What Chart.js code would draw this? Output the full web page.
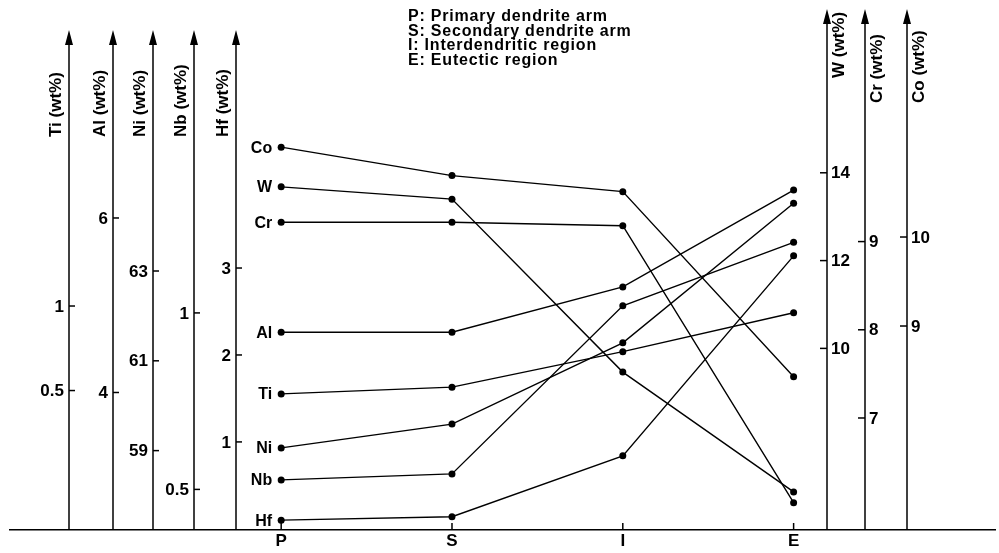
<!DOCTYPE html>
<html>
<head>
<meta charset="utf-8">
<script src="https://cdn.jsdelivr.net/npm/chart.js@4.4.1/dist/chart.umd.min.js"></script>
<style>
  html, body { margin: 0; padding: 0; background: #fff; }
  canvas { display: block; }
</style>
</head>
<body>
<canvas id="chart" width="999" height="553"></canvas>
<script>
// sampling positions in the casting
const regions = ['P', 'S', 'I', 'E'];
const legendLines = [
    'P: Primary dendrite arm',
    'S: Secondary dendrite arm',
    'I: Interdendritic region',
    'E: Eutectic region'
];

// composition (wt%) at P, S, I, E
const coValues = [11.01, 10.69, 10.51, 8.43];
const wValues = [13.68, 13.40, 9.46, 6.73];
const crValues = [9.22, 9.22, 9.18, 6.04];
const alValues = [4.69, 4.69, 5.21, 6.32];
const tiValues = [0.48, 0.52, 0.73, 0.96];
const niValues = [59.06, 59.59, 61.40, 64.51];
const nbValues = [0.527, 0.544, 1.02, 1.20];
const hfValues = [0.10, 0.14, 0.84, 3.14];

// tick labels on each element axis
const tiTicks = [0.5, 1];
const alTicks = [4, 6];
const niTicks = [59, 61, 63];
const nbTicks = [0.5, 1];
const hfTicks = [1, 2, 3];
const wTicks = [10, 12, 14];
const crTicks = [7, 8, 9];
const coTicks = [9, 10];

const FONT = '"Liberation Sans", Arial, Helvetica, sans-serif';

// one vertical axis per element, placed along the x scale
const elementAxes = [
    { id: 'yTi', name: 'Ti', side: 'left', at: -1.24, min: -0.325, max: 2.757, ticks: tiTicks },
    { id: 'yAl', name: 'Al', side: 'left', at: -0.984, min: 2.424, max: 8.395, ticks: alTicks },
    { id: 'yNi', name: 'Ni', side: 'left', at: -0.75, min: 57.232, max: 68.835, ticks: niTicks },
    { id: 'yNb', name: 'Nb', side: 'left', at: -0.511, min: 0.385, max: 1.861, ticks: nbTicks },
    { id: 'yHf', name: 'Hf', side: 'left', at: -0.263, min: -0.013, max: 5.979, ticks: hfTicks },
    { id: 'yW', name: 'W', side: 'right', at: 3.198, min: 5.863, max: 17.731, ticks: wTicks, titleEnd: 78 },
    { id: 'yCr', name: 'Cr', side: 'right', at: 3.42, min: 5.730, max: 11.637, ticks: crTicks, titleEnd: 103 },
    { id: 'yCo', name: 'Co', side: 'right', at: 3.665, min: 6.708, max: 12.562, ticks: coTicks, titleEnd: 103 }
];

const series = [
    ['Co', coValues, 'yCo'],
    ['W', wValues, 'yW'],
    ['Cr', crValues, 'yCr'],
    ['Al', alValues, 'yAl'],
    ['Ti', tiValues, 'yTi'],
    ['Ni', niValues, 'yNi'],
    ['Nb', nbValues, 'yNb'],
    ['Hf', hfValues, 'yHf']
];

const scales = {
    x: {
        type: 'linear',
        min: -1.5876,
        max: 4.179,
        position: 'bottom',
        grid: { display: false, drawTicks: false },
        border: { display: true, color: '#000', width: 1.5 },
        afterBuildTicks: scale => {
            scale.ticks = regions.map((r, i) => ({ value: i }));
        },
        afterFit: scale => {
            scale.height = 23;
        },
        ticks: {
            padding: 3,
            color: '#000',
            font: { family: FONT, size: 17, weight: 'bold', lineHeight: 1 },
            callback: v => regions[v] || ''
        }
    }
};
elementAxes.forEach(ax => {
    scales[ax.id] = {
        type: 'linear',
        display: false,
        position: { x: ax.at },
        min: ax.min,
        max: ax.max
    };
});

// axis lines with arrows, tick marks, titles and the region key
const axisDecor = {
    id: 'axisDecor',
    afterDraw(chart) {
        const ctx = chart.ctx;
        const xs = chart.scales.x;
        const area = chart.chartArea;
        ctx.save();
        ctx.strokeStyle = '#000';
        ctx.fillStyle = '#000';
        ctx.lineWidth = 1.5;

        regions.forEach((r, i) => {
            const px = xs.getPixelForValue(i);
            ctx.beginPath();
            ctx.moveTo(px, area.bottom);
            ctx.lineTo(px, area.bottom - 7);
            ctx.stroke();
        });

        elementAxes.forEach(ax => {
            const scale = chart.scales[ax.id];
            const px = Math.round(xs.getPixelForValue(ax.at));
            const left = ax.side === 'left';
            const tipY = left ? area.top + 21 : area.top;

            ctx.lineWidth = 1.5;
            ctx.beginPath();
            ctx.moveTo(px, area.bottom);
            ctx.lineTo(px, tipY + 10);
            ctx.stroke();
            ctx.beginPath();
            ctx.moveTo(px, tipY);
            ctx.lineTo(px - 4, tipY + 15);
            ctx.lineTo(px + 4, tipY + 15);
            ctx.closePath();
            ctx.fill();

            ctx.font = 'bold 17px ' + FONT;
            ctx.textBaseline = 'middle';
            ax.ticks.forEach(v => {
                const py = scale.getPixelForValue(v);
                ctx.beginPath();
                if (left) {
                    ctx.moveTo(px, py);
                    ctx.lineTo(px + 6, py);
                } else {
                    ctx.moveTo(px - 7, py);
                    ctx.lineTo(px, py);
                }
                ctx.stroke();
                ctx.textAlign = left ? 'right' : 'left';
                ctx.fillText(String(v), left ? px - 5 : px + 4, py + 1);
            });

            ctx.save();
            const titleX = left ? px - 13 : px + 12;
            const titleY = left ? 137 : ax.titleEnd;
            ctx.translate(titleX, titleY);
            ctx.rotate(-Math.PI / 2);
            ctx.textAlign = 'left';
            ctx.textBaseline = 'middle';
            ctx.font = 'bold 17px ' + FONT;
            ctx.fillText(ax.name + ' (wt%)', 0, 0);
            ctx.restore();
        });

        ctx.save();
        ctx.font = 'bold 16px ' + FONT;
        ctx.letterSpacing = '0.8px';
        ctx.textAlign = 'left';
        ctx.textBaseline = 'middle';
        legendLines.forEach((line, i) => {
            ctx.fillText(line, 408, 17 + i * 14.5);
        });
        ctx.restore();

        // element names next to the first point
        ctx.font = 'bold 16px ' + FONT;
        ctx.textAlign = 'right';
        ctx.textBaseline = 'middle';
        chart.data.datasets.forEach((ds, i) => {
            const pt = chart.getDatasetMeta(i).data[0];
            ctx.fillText(ds.label, pt.x - 9, pt.y + 1);
        });
        ctx.restore();
    }
};

new Chart(document.getElementById('chart'), {
    type: 'line',
    data: {
        datasets: series.map(([name, values, axisId]) => ({
            label: name,
            yAxisID: axisId,
            data: values.map((v, i) => ({ x: i, y: v })),
            borderColor: '#000',
            backgroundColor: '#000',
            borderWidth: 1.4,
            pointRadius: 3.5,
            pointBorderWidth: 0,
            tension: 0
        }))
    },
    options: {
        responsive: false,
        animation: false,
        layout: { padding: { left: 10, right: 1, top: 9, bottom: 0 } },
        plugins: {
            legend: { display: false },
            tooltip: { enabled: false }
        },
        scales: scales
    },
    plugins: [axisDecor]
});
</script>
</body>
</html>
